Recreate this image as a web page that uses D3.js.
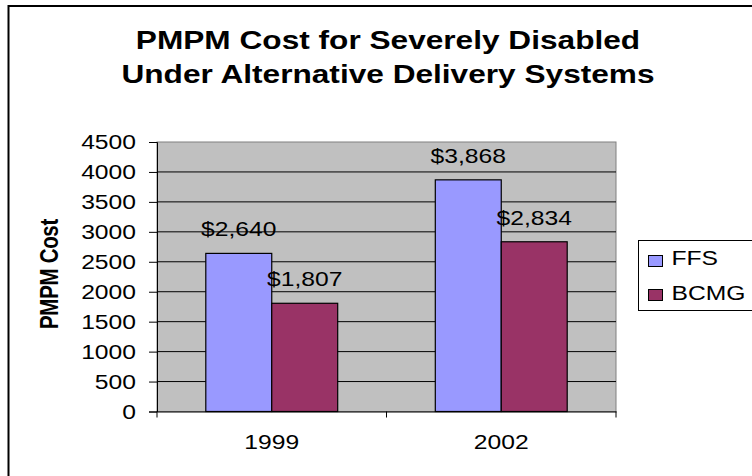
<!DOCTYPE html>
<html>
<head>
<meta charset="utf-8">
<script src="https://cdn.jsdelivr.net/npm/d3@7"></script>
<style>
  body { margin: 0; background: #fff; }
  svg { display: block; font-family: "Liberation Sans", Arial, sans-serif; }
</style>
</head>
<body>
<svg id="chart" width="752" height="476"></svg>
<script>
// data
const years = ["1999", "2002"];
const seriesNames = ["FFS", "BCMG"];
const ffsCost = [2640, 3868];
const bcmgCost = [1807, 2834];
const yTicks = [0, 500, 1000, 1500, 2000, 2500, 3000, 3500, 4000, 4500];
const titleLines = ["PMPM Cost for Severely Disabled", "Under Alternative Delivery Systems"];

const colors = { FFS: "#9999FF", BCMG: "#993366" };
const stretch = 1.265; // the original is stretched sideways

const svg = d3.select("#chart");

const plot = { left: 157, right: 616, top: 142, bottom: 411.5 };

const x0 = d3.scaleBand().domain(years).range([plot.left, plot.right]).paddingInner(0).paddingOuter(0);
const x1 = d3.scaleBand().domain(seriesNames).range([0, x0.bandwidth()]).paddingInner(0).paddingOuter(0.74);
const y = d3.scaleLinear().domain([0, 4500]).range([plot.bottom, plot.top]);

// stretched text helper
function label(parent, str, xPos, yPos, opts = {}) {
  const g = parent.append("g")
    .attr("transform", `translate(${xPos},${yPos}) scale(${stretch},1)` + (opts.rotate ? ` rotate(${opts.rotate})` : ""));
  g.append("text")
    .attr("text-anchor", opts.anchor || "middle")
    .attr("font-size", opts.size || 19.5)
    .attr("font-weight", opts.bold ? "bold" : "normal")
    .attr("fill", "#000")
    .text(str);
  return g;
}

// outer frame (right and bottom edges run off the picture)
svg.append("rect")
  .attr("x", 8.5).attr("y", 6)
  .attr("width", 800).attr("height", 500)
  .attr("fill", "none").attr("stroke", "#000").attr("stroke-width", 2);

// title
titleLines.forEach((t, i) => label(svg, t, 388, 49 + i * 33.7, { size: 25, bold: true }));

// plot area
svg.append("rect")
  .attr("x", plot.left).attr("y", plot.top)
  .attr("width", plot.right - plot.left).attr("height", plot.bottom - plot.top)
  .attr("fill", "#C0C0C0").attr("stroke", "#808080").attr("stroke-width", 1);

// gridlines
svg.append("g").selectAll("line")
  .data(yTicks.filter(d => d > 0 && d < 4500))
  .join("line")
  .attr("x1", plot.left).attr("x2", plot.right)
  .attr("y1", d => y(d)).attr("y2", d => y(d))
  .attr("stroke", "#000").attr("stroke-width", 1);

// y axis
const yAxis = svg.append("g")
  .attr("transform", `translate(${plot.left},0)`)
  .call(d3.axisLeft(y).tickValues(yTicks).tickSize(8).tickFormat(""));
yAxis.select(".domain").attr("stroke", "#000");
yAxis.selectAll(".tick line").attr("stroke", "#000");
yTicks.forEach(v => label(svg, String(v), 136, y(v) + 7, { anchor: "end" }));

// bars
const groups = svg.append("g").selectAll("g")
  .data(years.map((yr, i) => ({ yr, vals: [
    { name: "FFS", v: ffsCost[i] },
    { name: "BCMG", v: bcmgCost[i] }
  ] })))
  .join("g")
  .attr("transform", d => `translate(${x0(d.yr)},0)`);

groups.selectAll("rect")
  .data(d => d.vals)
  .join("rect")
  .attr("x", d => x1(d.name))
  .attr("y", d => y(d.v))
  .attr("width", x1.bandwidth())
  .attr("height", d => y(0) - y(d.v))
  .attr("fill", d => colors[d.name])
  .attr("stroke", "#000").attr("stroke-width", 1.2);

// value labels
const fmt = d3.format("$,");
groups.each(function (d) {
  const g = d3.select(this);
  d.vals.forEach(b => label(g, fmt(b.v), x1(b.name) + x1.bandwidth() / 2, y(b.v) - 17));
});

// x axis
const xAxis = svg.append("g")
  .attr("transform", `translate(0,${plot.bottom})`)
  .call(d3.axisBottom(x0).tickSize(0).tickFormat(""));
xAxis.select(".domain").attr("stroke", "#000");
xAxis.selectAll(".tick").remove();
svg.append("g").selectAll("line")
  .data([plot.left, x0(years[1]), plot.right])
  .join("line")
  .attr("x1", d => d).attr("x2", d => d)
  .attr("y1", plot.bottom).attr("y2", plot.bottom + 6)
  .attr("stroke", "#000");
years.forEach(yr => label(svg, yr, x0(yr) + x0.bandwidth() / 2, 449));

// y axis title
label(svg, "PMPM Cost", 58, 274, { bold: true, size: 20.5, rotate: -90 })
  .select("text").attr("letter-spacing", -0.3);

// legend
const legend = svg.append("g");
legend.append("rect")
  .attr("x", 638.5).attr("y", 240.5).attr("width", 130).attr("height", 70)
  .attr("fill", "#fff").attr("stroke", "#000");
seriesNames.forEach((name, i) => {
  legend.append("rect")
    .attr("x", 648.5).attr("y", 255.5 + i * 34).attr("width", 14).attr("height", 11)
    .attr("fill", colors[name]).attr("stroke", "#000");
  label(legend, name, 671.5, 265 + i * 34.5, { anchor: "start" });
});
</script>
</body>
</html>
